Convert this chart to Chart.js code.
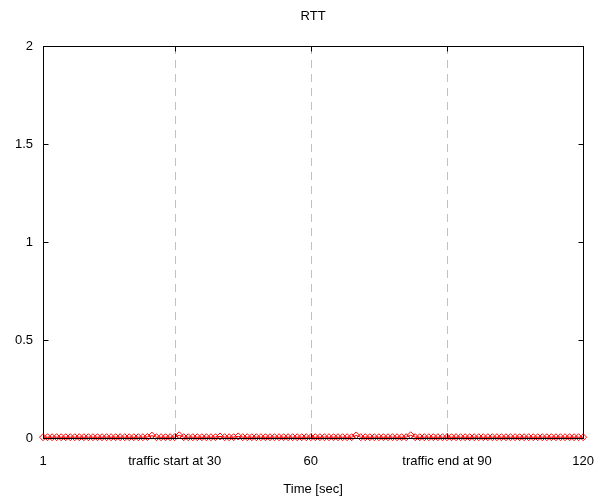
<!DOCTYPE html>
<html>
<head>
<meta charset="utf-8">
<script src="https://cdn.jsdelivr.net/npm/chart.js@4"></script>
<style>
  html, body { margin: 0; padding: 0; background: #fff; }
  #wrap { width: 610px; height: 503px; }
</style>
</head>
<body>
<div id="wrap"><canvas id="grafico"></canvas></div>
<script>
// RTT por segundo (s)
const segundos = [];
for (let s = 1; s <= 120; s++) segundos.push(s);

const rtt = [
  0.004, 0.004, 0.004, 0.004, 0.004, 0.004, 0.004, 0.004, 0.004, 0.004,
  0.004, 0.004, 0.004, 0.004, 0.004, 0.004, 0.004, 0.004, 0.004, 0.004,
  0.004, 0.004, 0.004, 0.005, 0.012, 0.004, 0.004, 0.004, 0.004, 0.004,
  0.014, 0.004, 0.004, 0.004, 0.004, 0.004, 0.004, 0.004, 0.004, 0.008,
  0.004, 0.004, 0.004, 0.008, 0.004, 0.004, 0.004, 0.004, 0.004, 0.004,
  0.004, 0.004, 0.004, 0.004, 0.004, 0.004, 0.004, 0.004, 0.004, 0.004,
  0.004, 0.004, 0.004, 0.004, 0.004, 0.004, 0.004, 0.004, 0.004, 0.013,
  0.004, 0.004, 0.004, 0.004, 0.004, 0.004, 0.004, 0.004, 0.004, 0.004,
  0.004, 0.014, 0.004, 0.004, 0.004, 0.004, 0.004, 0.004, 0.004, 0.004,
  0.004, 0.004, 0.004, 0.004, 0.004, 0.004, 0.004, 0.004, 0.004, 0.004,
  0.004, 0.004, 0.004, 0.004, 0.004, 0.004, 0.004, 0.004, 0.004, 0.004,
  0.004, 0.004, 0.004, 0.004, 0.004, 0.004, 0.004, 0.004, 0.004, 0.004
];

const ticksX = [1, 30, 60, 90, 120];
const rotulosX = { 1: "1", 30: "traffic start at 30", 60: "60", 90: "traffic end at 90", 120: "120" };
const ticksY = [0, 0.5, 1, 1.5, 2];
const linhasEvento = [30, 60, 90];
const titulo = "RTT";

const fonte = { family: "'Liberation Sans', Arial, sans-serif", size: 13 };

// moldura, marcas dos ticks, linhas tracejadas e título centrado no gráfico (estilo gnuplot)
const moldura = {
  id: "moldura",
  beforeDatasetsDraw(chart) {
    const { ctx, chartArea: a, scales } = chart;
    ctx.save();
    ctx.strokeStyle = "#c0c0c0";
    ctx.lineWidth = 1;
    ctx.setLineDash([8, 6]);
    linhasEvento.forEach((v) => {
      const x = Math.round(scales.x.getPixelForValue(v)) + 0.5;
      ctx.beginPath();
      ctx.moveTo(x, a.top);
      ctx.lineTo(x, a.bottom);
      ctx.stroke();
    });
    ctx.restore();
  },
  afterDatasetsDraw(chart) {
    const { ctx, chartArea: a, scales } = chart;
    ctx.save();
    ctx.strokeStyle = "#000";
    ctx.lineWidth = 1;
    ctx.setLineDash([]);
    const L = Math.round(a.left) + 0.5, R = Math.round(a.right) + 0.5;
    const T = Math.round(a.top) + 0.5, B = Math.round(a.bottom) + 0.5;
    ctx.strokeRect(L, T, R - L, B - T);
    ctx.beginPath();
    ticksY.forEach((v) => {
      const y = Math.round(scales.y.getPixelForValue(v)) + 0.5;
      ctx.moveTo(L, y); ctx.lineTo(L + 5, y);
      ctx.moveTo(R, y); ctx.lineTo(R - 5, y);
    });
    ticksX.forEach((v) => {
      const x = Math.round(scales.x.getPixelForValue(v)) + 0.5;
      ctx.moveTo(x, B); ctx.lineTo(x, B - 5);
      ctx.moveTo(x, T); ctx.lineTo(x, T + 5);
    });
    ctx.stroke();

    ctx.fillStyle = "#000";
    ctx.font = fonte.size + "px " + fonte.family;
    ctx.textAlign = "center";
    ctx.textBaseline = "middle";
    ctx.fillText(titulo, (a.left + a.right) / 2, 16.5);
    ctx.restore();
  }
};

new Chart(document.getElementById("grafico"), {
  type: "line",
  data: {
    labels: segundos,
    datasets: [
      {
        label: "RTT",
        data: segundos.map((s, i) => ({ x: s, y: rtt[i] })),
        borderColor: "#ff0000",
        borderWidth: 1,
        backgroundColor: "rgba(255,255,255,0)",
        pointStyle: "rectRot",
        pointRadius: 3.5,
        pointBorderColor: "#ff0000",
        pointBorderWidth: 1,
        pointBackgroundColor: "rgba(255,255,255,0)",
        tension: 0,
        clip: false,
      },
    ],
  },
  options: {
    responsive: true,
    maintainAspectRatio: false,
    animation: false,
    layout: { padding: { left: 0, right: 26, top: 46, bottom: 0 } },
    plugins: {
      legend: { display: false },
      tooltip: { enabled: false },
      title: { display: false },
    },
    scales: {
      x: {
        type: "linear",
        min: 1,
        max: 120,
        afterBuildTicks: (axis) => {
          axis.ticks = ticksX.map((v) => ({ value: v }));
        },
        afterFit: (axis) => {
          axis.height = 65;
        },
        ticks: {
          autoSkip: false,
          maxRotation: 0,
          color: "#000",
          font: fonte,
          padding: 16,
          callback: (v) => rotulosX[v],
        },
        grid: { display: false, drawTicks: false },
        border: { display: false },
        title: {
          display: true,
          text: "Time [sec]",
          color: "#000",
          font: fonte,
          padding: { top: 14, bottom: 6 },
        },
      },
      y: {
        min: 0,
        max: 2,
        afterBuildTicks: (axis) => {
          axis.ticks = ticksY.map((v) => ({ value: v }));
        },
        afterFit: (axis) => {
          axis.width = 43;
        },
        ticks: {
          color: "#000",
          font: fonte,
          padding: 10,
          callback: (v) => String(v),
        },
        grid: { display: false, drawTicks: false },
        border: { display: false },
      },
    },
  },
  plugins: [moldura],
});
</script>
</body>
</html>
